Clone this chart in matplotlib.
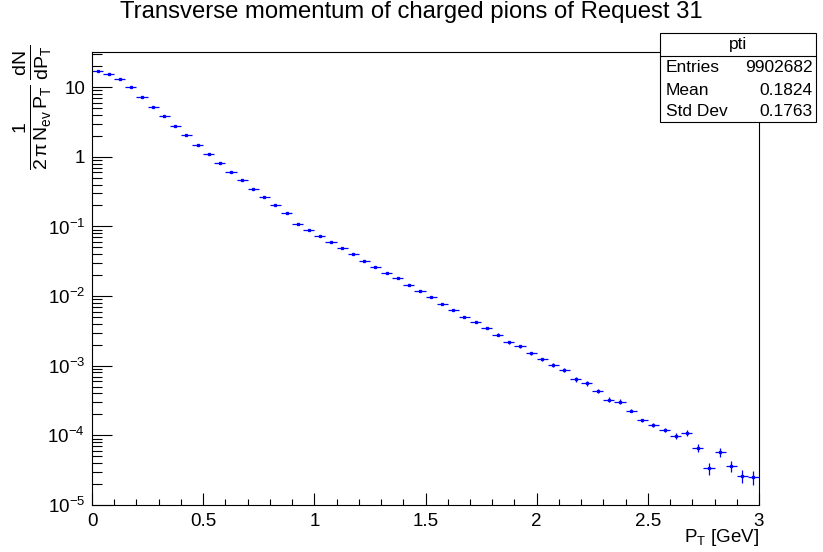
import matplotlib
matplotlib.use("Agg")
import matplotlib.pyplot as plt
from matplotlib.ticker import FixedLocator, FuncFormatter, LogLocator, MultipleLocator, NullFormatter
from matplotlib.patches import Rectangle
from matplotlib.lines import Line2D
import numpy as np

plt.rcParams['font.family'] = ['Liberation Sans', 'DejaVu Sans']
plt.rcParams['mathtext.fontset'] = 'custom'
plt.rcParams['mathtext.rm'] = 'Liberation Sans'
plt.rcParams['mathtext.it'] = 'Liberation Sans'
plt.rcParams['mathtext.default'] = 'regular'

# ---- data ----
bin_width = 0.05
bin_centers = [0.025 + 0.05 * i for i in range(60)]
values = [17.2, 15.5, 12.9, 9.9, 7.24, 5.27, 3.83, 2.77, 2.04, 1.50,
          1.11, 0.806, 0.612, 0.459, 0.349, 0.261, 0.200, 0.154, 0.109, 0.0885,
          0.0725, 0.0594, 0.0487, 0.0399, 0.0321, 0.0266, 0.0216, 0.0179, 0.0145, 0.0119,
          0.00984, 0.00780, 0.00640, 0.00507, 0.00425, 0.00349, 0.00279, 0.00216, 0.00190, 0.00150,
          0.00124, 0.00102, 0.000875, 0.000635, 0.000556, 0.000436, 0.000324, 0.000306, 0.000227, 0.000166,
          0.000143, 0.000120, 0.0000974, 0.000109, 0.0000667, 0.0000337, 0.0000573, 0.0000368, 0.0000264, 0.0000253]
rel_errors = [0.002, 0.002, 0.002, 0.002, 0.002, 0.002, 0.003, 0.003, 0.003, 0.004,
              0.004, 0.005, 0.005, 0.006, 0.006, 0.007, 0.008, 0.009, 0.010, 0.011,
              0.012, 0.013, 0.014, 0.015, 0.017, 0.018, 0.019, 0.021, 0.023, 0.025,
              0.027, 0.030, 0.032, 0.035, 0.037, 0.040, 0.043, 0.047, 0.050, 0.054,
              0.058, 0.062, 0.066, 0.070, 0.075, 0.080, 0.085, 0.090, 0.050, 0.050,
              0.066, 0.066, 0.10, 0.11, 0.13, 0.20, 0.15, 0.18, 0.215, 0.23]
x_tick_values = [0, 0.5, 1, 1.5, 2, 2.5, 3]
title = "Transverse momentum of charged pions of Request 31"
stats_name = "pti"
stats_labels = ["Entries", "Mean", "Std Dev"]
stats_values = ["9902682", "0.1824", "0.1763"]

W, H = 823, 552
fig = plt.figure(figsize=(W / 100, H / 100), dpi=100)
L, R, T, B = 92, 759, 52, 505
ax = fig.add_axes([L / W, 1 - B / H, (R - L) / W, (B - T) / H])

vals = np.array(values)
yerr = vals * np.array(rel_errors)
ax.errorbar(bin_centers, vals, xerr=bin_width / 2, yerr=yerr, fmt='s', ms=1.4,
            color='#0000ff', mec='#0000ff', ecolor='#0000ff', elinewidth=0.9, capsize=0)

ax.set_yscale('log')
ax.set_xlim(0, 3)
ax.set_ylim(1e-5, 32)

ax.xaxis.set_major_locator(FixedLocator(x_tick_values))
ax.xaxis.set_minor_locator(MultipleLocator(0.1))
ax.xaxis.set_major_formatter(FuncFormatter(lambda v, p: "%g" % v))
ax.xaxis.set_minor_formatter(NullFormatter())

ax.yaxis.set_major_locator(LogLocator(base=10, numticks=20))
ax.yaxis.set_minor_locator(LogLocator(base=10, subs=np.arange(2, 10), numticks=20))
ax.yaxis.set_minor_formatter(NullFormatter())

def yfmt(v, p):
    e = int(round(np.log10(v)))
    if e == 0:
        return "1"
    if e == 1:
        return "10"
    return r"$10^{%d}$" % e
ax.yaxis.set_major_formatter(FuncFormatter(yfmt))
ax.xaxis.offsetText.set_visible(False)
ax.yaxis.offsetText.set_visible(False)

ax.tick_params(axis='both', which='both', direction='in', top=False, right=False,
               width=0.8, labelsize=13.5, colors='black')
ax.tick_params(axis='y', which='major', length=14.4, pad=5)
ax.tick_params(axis='y', which='minor', length=7.2)
ax.tick_params(axis='x', which='major', length=8.8, pad=6)
ax.tick_params(axis='x', which='minor', length=4.4)
for s in ax.spines.values():
    s.set_linewidth(0.8)

fig.text(0.5, 1 - 12 / H, title, ha='center', va='center', fontsize=17.2)

ax.set_xlabel(r"$P_{T}$ [GeV]", fontsize=13.5, ha='right')
ax.xaxis.set_label_coords(1.0, -(527 - B) / (B - T))
ax.set_ylabel(r"$\frac{1}{2\,π\,N_{ev}\,P_{T}}\,\frac{dN}{dP_{T}}$", fontsize=20, ha='right')
ax.yaxis.set_label_coords(-(L - 54) / (R - L), 1 + 7 / (B - T))

# ---- stats box ----
bx0, bx1, by0, by1, bsep = 660, 816, 33, 122, 56
ft = fig.transFigure
def fx(px):
    return px / W
def fy(py):
    return 1 - py / H
fig.patches.append(Rectangle((fx(bx0), fy(by1)), fx(bx1) - fx(bx0), fy(by0) - fy(by1),
                             transform=ft, facecolor='white', edgecolor='black', lw=0.8, zorder=10))
fig.lines.append(Line2D([fx(bx0), fx(bx1)], [fy(bsep), fy(bsep)], transform=ft,
                        color='black', lw=0.8, zorder=11))
fig.text(fx((bx0 + bx1) / 2), fy(44), stats_name, ha='center', va='center', fontsize=12.5, zorder=12)
row_y = [67, 90, 111]
for lab, val, yy in zip(stats_labels, stats_values, row_y):
    fig.text(fx(bx0 + 6), fy(yy), lab, ha='left', va='center', fontsize=12.5, zorder=12)
    fig.text(fx(bx1 - 3), fy(yy), val, ha='right', va='center', fontsize=12.5, zorder=12)

fig.savefig("out.png", dpi=100)
